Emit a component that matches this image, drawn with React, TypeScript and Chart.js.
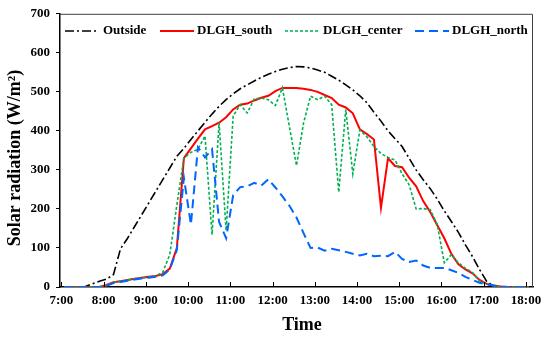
import React, { useEffect, useRef } from "react";
import { Chart, registerables } from "chart.js";

Chart.register(...registerables);

// Sample times (h:mm)
const times = [
  "7:04", "7:14", "7:24", "7:34", "7:44", "7:54",
  "8:04", "8:14", "8:24", "8:34", "8:44", "8:54",
  "9:04", "9:14", "9:24", "9:34", "9:44", "9:54",
  "10:04", "10:14", "10:24", "10:34", "10:44", "10:54",
  "11:04", "11:14", "11:24", "11:34", "11:44", "11:54",
  "12:04", "12:14", "12:24", "12:34", "12:44", "12:54",
  "13:04", "13:14", "13:24", "13:34", "13:44", "13:54",
  "14:04", "14:14", "14:24", "14:34", "14:44", "14:54",
  "15:04", "15:14", "15:24", "15:34", "15:44", "15:54",
  "16:04", "16:14", "16:24", "16:34", "16:44", "16:54",
  "17:04", "17:14", "17:24", "17:34", "17:44", "17:54",
  "18:04",
];

const outside = [
  0, 0, 0, 1, 8, 15,
  20, 32, 98, 125, 155, 185,
  215, 245, 275, 305, 335, 355,
  378, 400, 422, 443, 463, 480,
  495, 508, 518, 528, 537, 545,
  552, 558, 562, 565, 564, 561,
  556, 550, 540, 530, 518, 505,
  490, 472, 448, 425, 400, 380,
  360, 330, 300, 275, 252, 225,
  195, 168, 140, 108, 78, 45,
  15, 2, 0, 0, 0, 0,
  0,
];

const south = [
  0, 0, 0, 0, 0, 0,
  5, 12, 15, 18, 21, 24,
  26, 28, 33, 47, 100, 330,
  355, 380, 404, 412, 421, 435,
  455, 467, 470, 478, 485, 490,
  502, 510, 510, 510, 508, 505,
  500, 492, 484, 467, 460, 445,
  404, 392, 378, 203, 330, 310,
  307, 280, 258, 220, 192, 158,
  125, 85, 58, 45, 35, 18,
  8, 4, 1, 0, 0, 0,
  0,
];

const center = [
  0, 0, 0, 0, 0, 0,
  4, 12, 15, 18, 21, 23,
  25, 28, 38, 83, 210, 330,
  345, 353, 387, 134, 421, 145,
  438, 467, 446, 482, 484, 480,
  465, 510, 410, 311, 420, 489,
  480, 489, 467, 243, 455, 290,
  402, 385, 360, 342, 332, 325,
  290, 262, 200, 201, 198, 160,
  62, 83, 62, 48, 37, 16,
  8, 3, 0, 0, 0, 0,
  0,
];

const north = [
  0, 0, 0, 0, 0, 0,
  3, 10, 13, 16, 19, 22,
  24, 26, 30, 45, 95, 280,
  160, 358, 332, 353, 167, 125,
  235, 256, 258, 267, 260, 276,
  255, 232, 208, 178, 138, 100,
  101, 93, 98, 94, 90, 85,
  81, 85, 79, 80, 79, 90,
  72, 64, 68, 55, 49, 49,
  49, 43, 36, 26, 18, 11,
  7, 4, 1, 0, 0, 0,
  0,
];

const xTickLabels = [
  "7:00", "8:00", "9:00", "10:00", "11:00", "12:00",
  "13:00", "14:00", "15:00", "16:00", "17:00", "18:00",
];

const yTickValues = [0, 100, 200, 300, 400, 500, 600, 700];

const FONT = '"Liberation Serif", "Times New Roman", Times, serif';

const toMin = (s: string) => {
  const [h, m] = s.split(":").map(Number);
  return h * 60 + m;
};

const fmt = (v: number) => `${Math.floor(v / 60)}:${String(Math.round(v % 60)).padStart(2, "0")}`;

export default function App() {
  const canvasRef = useRef<HTMLCanvasElement | null>(null);

  useEffect(() => {
    document.body.style.margin = "0";
    const canvas = canvasRef.current;
    if (!canvas) return;

    const series = [
      { label: "Outside", values: outside, color: "#000000", width: 1.6, dash: [9, 3, 2, 3], order: 3, lx: 65, tx: 103 },
      { label: "DLGH_south", values: south, color: "#FF0000", width: 2, dash: [], order: 2, lx: 160, tx: 197 },
      { label: "DLGH_center", values: center, color: "#00B050", width: 1.6, dash: [3, 2], order: 1, lx: 285, tx: 323 },
      { label: "DLGH_north", values: north, color: "#0066FF", width: 2, dash: [9, 5], order: 0, lx: 415, tx: 452 },
    ];

    const overlay = {
      id: "overlay",
      afterDraw(chart: any) {
        const { ctx, chartArea } = chart;
        const { left, top, right, bottom } = chartArea;
        ctx.save();
        // frame top & right
        ctx.strokeStyle = "#404040";
        ctx.lineWidth = 1;
        ctx.beginPath();
        ctx.moveTo(left, top + 0.5);
        ctx.lineTo(right - 0.5, top + 0.5);
        ctx.lineTo(right - 0.5, bottom);
        ctx.stroke();
        // x ticks inside
        const xs = chart.scales.x;
        ctx.strokeStyle = "#000";
        ctx.lineWidth = 1;
        xTickLabels.forEach((l) => {
          const px = Math.round(xs.getPixelForValue(toMin(l))) + 0.5;
          ctx.beginPath();
          ctx.moveTo(px, bottom);
          ctx.lineTo(px, bottom - 5);
          ctx.stroke();
        });
        // legend
        ctx.font = `bold 13px ${FONT}`;
        ctx.textBaseline = "middle";
        ctx.textAlign = "left";
        const ly = 31;
        series.forEach((s) => {
          ctx.strokeStyle = s.color;
          ctx.lineWidth = s.width;
          ctx.setLineDash(s.dash);
          ctx.beginPath();
          ctx.moveTo(s.lx, ly);
          ctx.lineTo(s.lx + 34, ly);
          ctx.stroke();
          ctx.setLineDash([]);
          ctx.fillStyle = "#000";
          ctx.fillText(s.label, s.tx, ly);
        });
        // axis titles
        ctx.font = `bold 18px ${FONT}`;
        ctx.fillStyle = "#000";
        ctx.textAlign = "center";
        ctx.textBaseline = "middle";
        ctx.fillText("Time", 302, 325);
        ctx.translate(15, 158);
        ctx.rotate(-Math.PI / 2);
        ctx.fillText("Solar radiation (W/m²)", 0, 0);
        ctx.restore();
      },
    };

    const chart = new Chart(canvas, {
      type: "line",
      data: {
        datasets: series.map((s) => ({
          label: s.label,
          data: s.values.map((v, i) => ({ x: toMin(times[i]), y: v })),
          borderColor: s.color,
          backgroundColor: s.color,
          borderWidth: s.width,
          borderDash: s.dash,
          pointRadius: 0,
          tension: 0,
          fill: false,
          order: s.order,
        })),
      },
      options: {
        responsive: false,
        animation: false,
        events: [],
        layout: { padding: { top: 9, right: 17, left: 0, bottom: 0 } },
        plugins: {
          legend: { display: false },
          tooltip: { enabled: false },
          title: { display: false },
        },
        scales: {
          x: {
            type: "linear",
            min: 418,
            max: 1090,
            afterBuildTicks: (s: any) => {
              s.ticks = xTickLabels.map((l) => ({ value: toMin(l) }));
            },
            afterFit: (s: any) => {
              s.height = 52;
            },
            grid: { drawOnChartArea: false, drawTicks: false },
            border: { display: true, color: "#000", width: 1.5 },
            ticks: {
              autoSkip: false,
              maxRotation: 0,
              padding: 6,
              color: "#000",
              font: { family: FONT, size: 13, weight: "bold" },
              callback: (v: any) => fmt(Number(v)),
            },
          },
          y: {
            type: "linear",
            min: 0,
            max: 700,
            afterBuildTicks: (s: any) => {
              s.ticks = yTickValues.map((v) => ({ value: v }));
            },
            afterFit: (s: any) => {
              s.width = 60;
            },
            grid: { drawOnChartArea: false, drawTicks: true, tickLength: 4, color: "#000" },
            border: { display: true, color: "#000", width: 1.5 },
            ticks: {
              padding: 6,
              color: "#000",
              font: { family: FONT, size: 13, weight: "bold" },
            },
          },
        },
      },
      plugins: [overlay],
    } as any);

    return () => chart.destroy();
  }, []);

  return (
    <div style={{ width: 550, height: 339 }}>
      <canvas ref={canvasRef} width={550} height={339} style={{ display: "block" }} />
    </div>
  );
}
